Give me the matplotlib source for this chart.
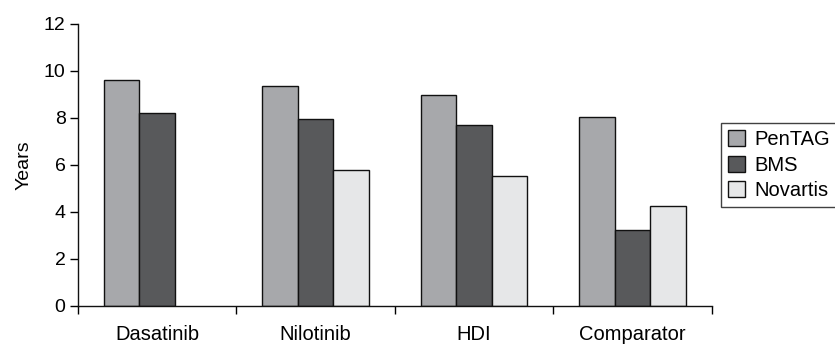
import numpy as np
import matplotlib.pyplot as plt
from matplotlib.ticker import FixedLocator

plt.rcParams['font.family'] = ['Liberation Sans', 'DejaVu Sans']

categories = ['Dasatinib', 'Nilotinib', 'HDI', 'Comparator']
series = ['PenTAG', 'BMS', 'Novartis']
pentag = [9.59, 9.34, 8.98, 8.03]
bms = [8.20, 7.96, 7.69, 3.21]
novartis = [np.nan, 5.79, 5.53, 4.23]

colours = ['#a7a8ab', '#58595b', '#e6e7e8']

fig = plt.figure(figsize=(8.35, 3.47), dpi=100)
ax = fig.add_axes([78 / 835, 1 - 305.7 / 347, (711.7 - 78) / 835, 282 / 347])

x = np.arange(len(categories))
w = 0.224
for i, (vals, col, name) in enumerate(zip([pentag, bms, novartis], colours, series)):
    ax.bar(x + (i - 1) * w, vals, width=w, color=col, edgecolor='#111111',
           linewidth=1.0, label=name)

ax.set_xlim(-0.5, len(categories) - 0.5)
ax.set_ylim(0, 12)
ax.set_yticks(range(0, 13, 2))
ax.set_xticks(x)
ax.set_xticklabels(categories, fontsize=14.5)
ax.xaxis.set_minor_locator(FixedLocator(np.arange(-0.5, len(categories), 1.0)))
ax.tick_params(axis='x', which='major', length=0, pad=14)
ax.tick_params(axis='x', which='minor', length=6, width=1, direction='out')
ax.tick_params(axis='y', length=6, width=1, direction='out', labelsize=14, pad=3)
ax.set_ylabel('Years', fontsize=14, labelpad=8)

for s in ['top', 'right']:
    ax.spines[s].set_visible(False)
for s in ['left', 'bottom']:
    ax.spines[s].set_linewidth(1)
    ax.spines[s].set_color('#111111')

leg = fig.legend(loc='upper left', bbox_to_anchor=(721 / 835, 1 - 123 / 347),
                 fontsize=14.5, frameon=True, fancybox=False, handlelength=0.85,
                 handleheight=0.85, handletextpad=0.45, labelspacing=0.33,
                 borderpad=0.35, borderaxespad=0)
leg.get_frame().set_edgecolor('#111111')
leg.get_frame().set_linewidth(1)

fig.savefig('out.png', dpi=100)
